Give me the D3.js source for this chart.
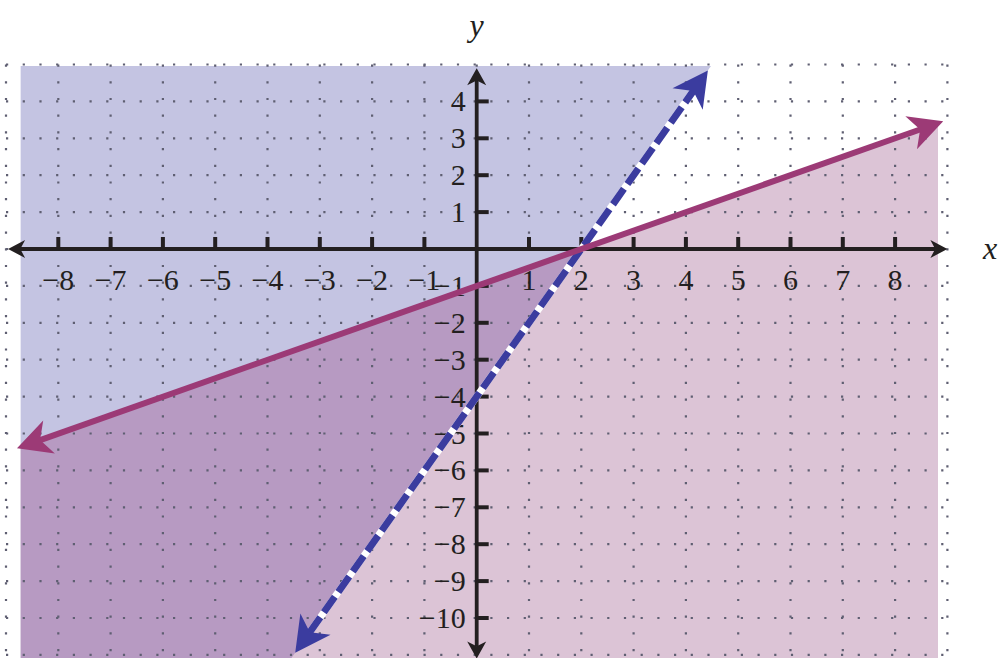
<!DOCTYPE html>
<html>
<head>
<meta charset="utf-8">
<script src="https://cdn.jsdelivr.net/npm/d3@7"></script>
<style>
  body { margin: 0; background: #fff; }
  svg { display: block; }
</style>
</head>
<body>
<div id="chart-area"></div>
<script>
// tick values on each axis
const xTicks = [-8, -7, -6, -5, -4, -3, -2, -1, 1, 2, 3, 4, 5, 6, 7, 8]
const yTicks = [-10, -9, -8, -7, -6, -5, -4, -3, -2, -1, 1, 2, 3, 4]
const gridX = d3.range(-9, 10)
const gridY = d3.range(-11, 6)

// boundary lines (arrow tip to arrow tip)
const solidLine = [[-8.79, -5.40], [8.92, 3.46]]
const dashedLine = [[-3.47, -10.94], [4.42, 4.84]]

// extent of the shaded area
const shadeX = [-8.72, 8.82]
const shadeY = [-11.3, 4.96]

const width = 1000
const height = 658

const x = d3.scaleLinear().domain([-9, 9]).range([6, 947.4])
const y = d3.scaleLinear().domain([-11, 5]).range([654.9, 64.5])

const svg = d3.select("#chart-area").append("svg")
    .attr("width", width)
    .attr("height", height)

// helpers for points on a line given by two points
const atX = (ln, v) => ln[0][1] + (ln[1][1] - ln[0][1]) * (v - ln[0][0]) / (ln[1][0] - ln[0][0])
const atY = (ln, v) => ln[0][0] + (ln[1][0] - ln[0][0]) * (v - ln[0][1]) / (ln[1][1] - ln[0][1])

const toPath = pts => "M" + pts.map(p => `${x(p[0])},${y(p[1])}`).join("L") + "Z"

// blue region: above the dashed line
const bluePts = [
    [shadeX[0], shadeY[1]],
    [atY(dashedLine, shadeY[1]), shadeY[1]],
    [atY(dashedLine, shadeY[0]), shadeY[0]],
    [shadeX[0], shadeY[0]]
]
// pink region: below the solid line
const pinkPts = [
    [shadeX[0], atX(solidLine, shadeX[0])],
    [shadeX[1], atX(solidLine, shadeX[1])],
    [shadeX[1], shadeY[0]],
    [shadeX[0], shadeY[0]]
]

svg.append("defs").append("clipPath")
    .attr("id", "pink-clip")
    .append("path")
    .attr("d", toPath(pinkPts))

svg.append("path").attr("d", toPath(bluePts)).attr("fill", "#c4c4e2")
svg.append("path").attr("d", toPath(pinkPts)).attr("fill", "#dcc4d6")
svg.append("path").attr("d", toPath(bluePts)).attr("fill", "#b79ac2")
    .attr("clip-path", "url(#pink-clip)")

// dotted grid
const grid = svg.append("g")
    .attr("stroke", "#5f5f72")
    .attr("stroke-width", 2.2)
    .attr("stroke-dasharray", "2.2 14.5")

grid.selectAll(".gx").data(gridX).enter().append("line")
    .attr("x1", d => x(d)).attr("x2", d => x(d))
    .attr("y1", y(5)).attr("y2", height)

grid.selectAll(".gy").data(gridY).enter().append("line")
    .attr("y1", d => y(d)).attr("y2", d => y(d))
    .attr("x1", x(-9)).attr("x2", x(9) + 2)

// arrow head drawn with the tip at (px, py), pointing along angle
function arrowHead(g, px, py, angle, L, W, color) {
    g.append("path")
        .attr("d", `M0,0L${-L},${-W}L${-L * 0.72},0L${-L},${W}Z`)
        .attr("fill", color)
        .attr("transform", `translate(${px},${py}) rotate(${angle * 180 / Math.PI})`)
}

// line with arrow heads on both ends, shortened so the stroke hides in the heads
function arrowLine(g, ln, color, w, L, W, dashed) {
    const p0 = [x(ln[0][0]), y(ln[0][1])]
    const p1 = [x(ln[1][0]), y(ln[1][1])]
    const a = Math.atan2(p1[1] - p0[1], p1[0] - p0[0])
    const cut = L * 0.7
    const s0 = [p0[0] + Math.cos(a) * cut, p0[1] + Math.sin(a) * cut]
    const s1 = [p1[0] - Math.cos(a) * cut, p1[1] - Math.sin(a) * cut]
    if (dashed) {
        g.append("line")
            .attr("x1", s0[0]).attr("y1", s0[1]).attr("x2", s1[0]).attr("y2", s1[1])
            .attr("stroke", "#fff").attr("stroke-width", w)
    }
    g.append("line")
        .attr("x1", s0[0]).attr("y1", s0[1]).attr("x2", s1[0]).attr("y2", s1[1])
        .attr("stroke", color).attr("stroke-width", w)
        .attr("stroke-dasharray", dashed ? "19 6" : null)
    arrowHead(g, p1[0], p1[1], a, L, W, color)
    arrowHead(g, p0[0], p0[1], a + Math.PI, L, W, color)
}

// axes
const axes = svg.append("g")
arrowLine(axes, [[-8.96, 0], [9.0, 0]], "#231f20", 3.8, 17, 9, false)
arrowLine(axes, [[0, -11.1], [0, 4.9]], "#231f20", 3.8, 17, 9.5, false)

axes.selectAll(".tx").data(xTicks).enter().append("line")
    .attr("x1", d => x(d)).attr("x2", d => x(d))
    .attr("y1", y(0)).attr("y2", y(0) - 12)
    .attr("stroke", "#231f20").attr("stroke-width", 4)

axes.selectAll(".ty").data(yTicks).enter().append("line")
    .attr("y1", d => y(d)).attr("y2", d => y(d))
    .attr("x1", x(0)).attr("x2", x(0) + 12)
    .attr("stroke", "#231f20").attr("stroke-width", 4)

const fmt = d => d < 0 ? "\u2212" + Math.abs(d) : String(d)

const labels = svg.append("g")
    .attr("font-family", "Liberation Serif")
    .attr("font-size", "30px")
    .attr("fill", "#231f20")

labels.selectAll(".lx").data(xTicks).enter().append("text")
    .attr("x", d => x(d))
    .attr("y", y(0) + 41)
    .attr("text-anchor", "middle")
    .text(fmt)

labels.selectAll(".ly").data(yTicks).enter().append("text")
    .attr("x", x(0) - 11)
    .attr("y", d => y(d) + 10)
    .attr("text-anchor", "end")
    .text(fmt)

// boundary lines
const lines = svg.append("g")
arrowLine(lines, dashedLine, "#3b3c9f", 7, 35, 18.5, true)
arrowLine(lines, solidLine, "#9c3a76", 6, 34, 17.5, false)

// axis titles
svg.append("text")
    .attr("x", x(0))
    .attr("y", 36)
    .attr("text-anchor", "middle")
    .attr("font-family", "Liberation Serif")
    .attr("font-style", "italic")
    .attr("font-size", "32px")
    .attr("fill", "#231f20")
    .text("y")

svg.append("text")
    .attr("x", 990)
    .attr("y", 259)
    .attr("text-anchor", "middle")
    .attr("font-family", "Liberation Serif")
    .attr("font-style", "italic")
    .attr("font-size", "32px")
    .attr("fill", "#231f20")
    .text("x")
</script>
</body>
</html>
